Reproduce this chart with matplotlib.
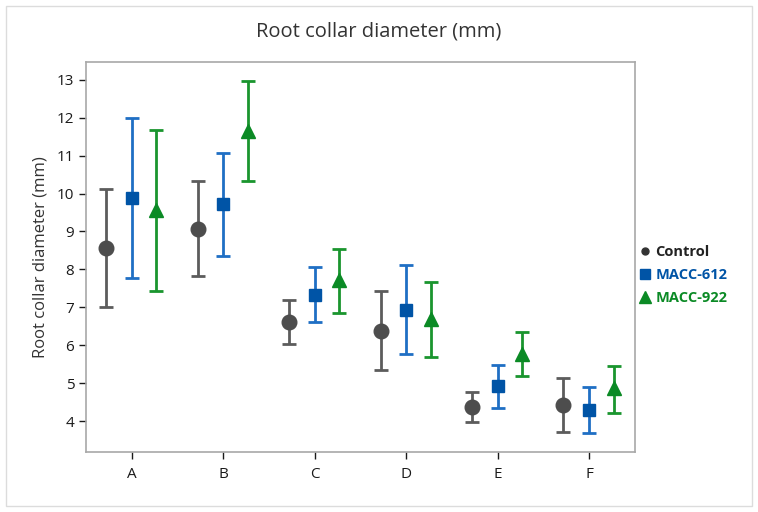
import numpy as np
import matplotlib.pyplot as plt
from matplotlib.lines import Line2D
from matplotlib.patches import Rectangle

plt.rcParams['font.family'] = ['Open Sans', 'DejaVu Sans']

groups = ['A', 'B', 'C', 'D', 'E', 'F']
series = ['Control', 'MACC-612', 'MACC-922']

control_mean = [8.56, 9.07, 6.62, 6.38, 4.37, 4.43]
control_low = [7.00, 7.82, 6.02, 5.34, 3.97, 3.72]
control_high = [10.12, 10.32, 7.19, 7.43, 4.77, 5.14]

macc612_mean = [9.87, 9.73, 7.33, 6.93, 4.92, 4.29]
macc612_low = [7.78, 8.35, 6.60, 5.76, 4.35, 3.68]
macc612_high = [12.00, 11.08, 8.07, 8.11, 5.47, 4.90]

macc922_mean = [9.57, 11.64, 7.72, 6.68, 5.78, 4.86]
macc922_low = [7.44, 10.32, 6.84, 5.68, 5.18, 4.20]
macc922_high = [11.67, 12.96, 8.53, 7.66, 6.35, 5.46]

yticks = [4, 5, 6, 7, 8, 9, 10, 11, 12, 13]

fig = plt.figure(figsize=(7.58, 5.12), dpi=100)
fig.patches.append(Rectangle((0.008, 0.012), 0.984, 0.976, transform=fig.transFigure,
                             fill=False, edgecolor='#dcdcdc', linewidth=1))
ax = fig.add_axes([0.1135, 0.117, 0.724, 0.762])

x = np.arange(len(groups))
styles = [
    (control_mean, control_low, control_high, -0.28, 'o', 10.5, '#4d4d4d', '#5c5c5c'),
    (macc612_mean, macc612_low, macc612_high, 0.0, 's', 8.5, '#0054a6', '#1f6fc4'),
    (macc922_mean, macc922_low, macc922_high, 0.27, '^', 9.5, '#0b8a25', '#1a952e'),
]
for mean, low, high, off, mk, ms, mc, ec in styles:
    mean = np.array(mean)
    err = [mean - np.array(low), np.array(high) - mean]
    ax.errorbar(x + off, mean, yerr=err, fmt='none', ecolor=ec, elinewidth=2,
                capsize=5, capthick=2, zorder=2)
    ax.plot(x + off, mean, linestyle='none', marker=mk, markersize=ms,
            color=mc, zorder=3)

ax.set_xlim(-0.5, 5.5)
ax.set_ylim(3.18, 13.47)
ax.set_xticks(x)
ax.set_xticklabels(groups)
ax.set_yticks(yticks)
ax.tick_params(axis='both', labelsize=11, colors='#1a1a1a', length=5, width=1, direction='out')
ax.tick_params(axis='x', pad=6)
for sp in ax.spines.values():
    sp.set_color('#a8a8a8')
    sp.set_linewidth(1.2)

ax.set_ylabel('Root collar diameter (mm)', fontsize=12, color='#333333', labelpad=6)
fig.text(0.5, 0.938, 'Root collar diameter (mm)', ha='center', va='center',
         fontsize=14.5, color='#333333')

handles = [
    Line2D([], [], linestyle='none', marker='o', markersize=5, color='#333333'),
    Line2D([], [], linestyle='none', marker='s', markersize=7, color='#0054a6'),
    Line2D([], [], linestyle='none', marker='^', markersize=8, color='#0b8a25'),
]
fig.legend(handles, series, loc='center left', bbox_to_anchor=(0.828, 0.463),
           frameon=False, handlelength=0.6, handletextpad=0.4, labelspacing=0.6,
           prop={'weight': 'bold', 'size': 10.5},
           labelcolor=['#222222', '#0054a6', '#0b8a25'])

fig.savefig('out.png', dpi=100)
